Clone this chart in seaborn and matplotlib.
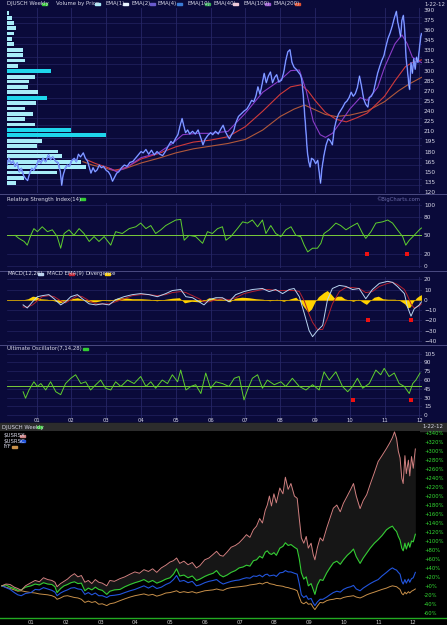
import matplotlib
matplotlib.use("Agg")
import matplotlib.pyplot as plt
from matplotlib.patches import Rectangle
from matplotlib.lines import Line2D
import seaborn as sns

plt.rcParams['font.family'] = ['Liberation Sans Narrow', 'DejaVu Sans']

# ---------------- data ----------------
price_years = [2000.14, 2000.20, 2000.26, 2000.32, 2000.38, 2000.44, 2000.50, 2000.56, 2000.62, 2000.68,
               2000.74, 2000.80, 2000.86, 2000.92, 2001.00, 2001.06, 2001.12, 2001.18, 2001.26, 2001.34,
               2001.40, 2001.46, 2001.54, 2001.62, 2001.68, 2001.72, 2001.76, 2001.82, 2001.88, 2001.94,
               2002.00, 2002.08, 2002.14, 2002.20, 2002.26, 2002.34, 2002.40, 2002.46, 2002.52, 2002.56,
               2002.62, 2002.68, 2002.74, 2002.80, 2002.86, 2002.92, 2003.00, 2003.06, 2003.12, 2003.18,
               2003.24, 2003.30, 2003.36, 2003.44, 2003.52, 2003.60, 2003.68, 2003.76, 2003.84, 2003.92,
               2004.00, 2004.06, 2004.14, 2004.22, 2004.30, 2004.38, 2004.46, 2004.54, 2004.62, 2004.70,
               2004.78, 2004.86, 2004.92, 2005.00, 2005.06, 2005.12, 2005.18, 2005.22, 2005.28, 2005.34,
               2005.40, 2005.48, 2005.56, 2005.64, 2005.72, 2005.78, 2005.84, 2005.92, 2006.00, 2006.06,
               2006.14, 2006.22, 2006.30, 2006.36, 2006.42, 2006.48, 2006.54, 2006.60, 2006.66, 2006.72,
               2006.80, 2006.88, 2006.96, 2007.04, 2007.10, 2007.18, 2007.24, 2007.30, 2007.36, 2007.42,
               2007.48, 2007.54, 2007.60, 2007.66, 2007.72, 2007.78, 2007.84, 2007.90, 2007.96, 2008.04,
               2008.10, 2008.16, 2008.22, 2008.28, 2008.34, 2008.40, 2008.46, 2008.52, 2008.58, 2008.62,
               2008.66, 2008.70, 2008.74, 2008.78, 2008.82, 2008.86, 2008.90, 2008.96, 2009.02, 2009.08,
               2009.12, 2009.16, 2009.20, 2009.26, 2009.32, 2009.38, 2009.44, 2009.50, 2009.56, 2009.62,
               2009.68, 2009.74, 2009.80, 2009.86, 2009.92, 2009.98, 2010.04, 2010.10, 2010.16, 2010.22,
               2010.28, 2010.34, 2010.40, 2010.46, 2010.52, 2010.56, 2010.62, 2010.68, 2010.74, 2010.80,
               2010.86, 2010.92, 2010.98, 2011.04, 2011.10, 2011.16, 2011.22, 2011.28, 2011.34, 2011.38,
               2011.42, 2011.46, 2011.50, 2011.54, 2011.58, 2011.62, 2011.66, 2011.70, 2011.72, 2011.76,
               2011.80, 2011.84, 2011.88, 2011.92, 2011.96, 2012.00, 2012.04, 2012.06]
price_vals = [160, 170, 162, 166, 158, 163, 150, 155, 145, 140,
              137, 148, 155, 152, 160, 168, 163, 170, 165, 175,
              168, 172, 166, 163, 150, 130, 145, 155, 160, 158,
              166, 170, 165, 176, 172, 178, 170, 166, 155, 148,
              156, 150, 153, 160, 156, 158, 152, 150, 145, 136,
              142, 148, 150, 156, 160, 158, 164, 165, 170, 175,
              180, 178, 183, 176, 182, 175, 180, 176, 174, 180,
              188, 195, 192, 200, 205, 218, 229, 220, 208, 212,
              206, 210, 206, 212, 200, 190, 198, 204, 208, 205,
              210, 206, 214, 219, 210, 204, 199, 205, 210, 222,
              232, 236, 240, 243, 248, 256, 254, 262, 276, 265,
              280, 296, 282, 292, 298, 282, 290, 294, 283, 286,
              297, 315, 328, 331, 312, 305, 302, 298, 294, 287,
              265, 238, 210, 180, 165, 157, 170, 168, 162, 167,
              150, 133, 155, 175, 190, 199, 196, 190, 215, 228,
              236, 241, 246, 252, 255, 260, 268, 262, 266, 275,
              292, 276, 258, 250, 246, 260, 262, 268, 282, 296,
              306, 315, 322, 336, 348, 356, 366, 378, 388, 372,
              362, 350, 375, 382, 360, 318, 300, 278, 272, 312,
              296, 318, 302, 320, 312, 332, 350, 355]

ema_fast_years = [2003.10, 2003.30, 2003.60, 2004.00, 2004.50, 2004.90, 2005.20, 2005.60, 2006.00, 2006.50,
                  2007.00, 2007.50, 2008.00, 2008.30, 2008.55, 2008.75, 2008.95, 2009.15, 2009.30, 2009.50,
                  2009.80, 2010.00, 2010.30, 2010.50, 2010.80, 2011.00, 2011.30, 2011.50, 2011.65, 2011.80, 2012.06]
ema_fast_vals = [155, 150, 157, 171, 178, 192, 205, 207, 207, 210,
                 237, 268, 286, 300, 301, 270, 225, 205, 201, 207,
                 228, 243, 260, 256, 275, 305, 340, 353, 340, 320, 312]
ema_mid_years = [2002.43, 2002.70, 2003.00, 2003.25, 2003.60, 2004.00, 2004.50, 2005.00, 2005.50, 2006.00,
                 2006.50, 2007.00, 2007.50, 2008.00, 2008.30, 2008.60, 2008.80, 2009.00, 2009.30, 2009.60,
                 2009.90, 2010.20, 2010.50, 2011.00, 2011.30, 2011.60, 2011.80, 2012.06]
ema_mid_vals = [168, 162, 157, 152, 157, 169, 177, 187, 194, 197,
                202, 217, 240, 265, 276, 279, 270, 256, 238, 228,
                224, 230, 237, 262, 285, 306, 312, 316]
ema_slow_years = [2002.33, 2002.60, 2003.00, 2003.20, 2003.50, 2004.00, 2004.50, 2005.00, 2005.50, 2006.00,
                  2006.50, 2007.00, 2007.50, 2008.00, 2008.40, 2008.70, 2009.00, 2009.30, 2009.60, 2010.00,
                  2010.50, 2011.00, 2011.40, 2011.70, 2012.06]
ema_slow_vals = [165, 160, 155, 152, 154, 163, 170, 178, 184, 188,
                 192, 198, 212, 232, 243, 249, 242, 235, 232, 234,
                 240, 254, 270, 280, 290]

# volume by price (price level, share of panel width)
vbp_prices = [386, 378, 371, 363, 355, 347, 339, 331, 323, 315, 307, 299, 291, 284, 276, 268, 260,
              252, 244, 236, 228, 220, 212, 204, 196, 188, 180, 173, 165, 157, 149, 141, 133]
vbp_share = [0.005, 0.012, 0.016, 0.022, 0.018, 0.011, 0.016, 0.038, 0.039, 0.043, 0.026, 0.107, 0.068,
             0.054, 0.051, 0.075, 0.097, 0.071, 0.043, 0.063, 0.043, 0.068, 0.155, 0.239, 0.085, 0.073,
             0.124, 0.133, 0.179, 0.191, 0.121, 0.042, 0.021]
vbp_hot = [299, 260, 212, 204]

rsi_years = [2000.38, 2000.49, 2000.64, 2000.73, 2000.83, 2000.92, 2001.02, 2001.16, 2001.31, 2001.45,
             2001.59, 2001.69, 2001.79, 2001.93, 2002.07, 2002.22, 2002.36, 2002.51, 2002.65, 2002.79,
             2002.94, 2003.13, 2003.27, 2003.46, 2003.66, 2003.85, 2003.99, 2004.14, 2004.28, 2004.42,
             2004.57, 2004.71, 2004.90, 2005.00, 2005.14, 2005.24, 2005.38, 2005.57, 2005.77, 2005.91,
             2006.05, 2006.20, 2006.34, 2006.44, 2006.58, 2006.77, 2006.92, 2007.06, 2007.20, 2007.35,
             2007.49, 2007.59, 2007.73, 2007.87, 2008.02, 2008.16, 2008.31, 2008.45, 2008.59, 2008.69,
             2008.79, 2008.93, 2009.07, 2009.17, 2009.26, 2009.41, 2009.60, 2009.74, 2009.89, 2010.03,
             2010.22, 2010.37, 2010.46, 2010.61, 2010.75, 2010.94, 2011.09, 2011.23, 2011.37, 2011.52,
             2011.61, 2011.71, 2011.85, 2012.00, 2012.06]
rsi_vals = [50, 45, 40, 34, 50, 61, 56, 64, 56, 59,
            48, 29, 53, 59, 50, 61, 53, 40, 48, 40,
            48, 34, 56, 53, 61, 64, 70, 61, 66, 53,
            59, 66, 72, 75, 76, 42, 50, 48, 37, 56,
            53, 61, 64, 42, 48, 61, 72, 70, 75, 64,
            75, 53, 66, 53, 48, 59, 64, 50, 48, 34,
            23, 29, 29, 37, 53, 59, 70, 66, 59, 64,
            70, 53, 45, 56, 70, 72, 75, 70, 59, 48,
            34, 42, 50, 59, 62]
rsi_flags_years = [2010.49, 2011.64]
rsi_flags_vals = [20, 20]

macd_years = [2000.61, 2000.73, 2000.88, 2001.02, 2001.16, 2001.35, 2001.50, 2001.69, 2001.83, 2001.98,
              2002.17, 2002.31, 2002.51, 2002.70, 2002.89, 2003.08, 2003.27, 2003.51, 2003.75, 2003.99,
              2004.23, 2004.47, 2004.71, 2004.90, 2005.14, 2005.29, 2005.48, 2005.67, 2005.81, 2005.96,
              2006.15, 2006.34, 2006.53, 2006.72, 2006.96, 2007.20, 2007.49, 2007.68, 2007.87, 2008.07,
              2008.26, 2008.40, 2008.55, 2008.69, 2008.83, 2008.93, 2009.07, 2009.22, 2009.36, 2009.50,
              2009.70, 2009.89, 2010.08, 2010.27, 2010.46, 2010.65, 2010.85, 2011.09, 2011.23, 2011.37,
              2011.57, 2011.66, 2011.76, 2011.85, 2012.00, 2012.06]
macd_vals = [-5, -8, -2, 3, 4, 5, 1, -5, -2, 3,
             5, 1, -4, -5, -4, -5, 0, 3, 5, 6,
             5, 3, 6, 9, 10, 3, 2, -2, -5, 0,
             2, 2, -2, 5, 8, 10, 11, 8, 10, 6,
             10, 11, 3, -13, -30, -36, -30, -25, 0, 11,
             14, 13, 10, 11, 1, 10, 16, 18, 17, 13,
             6, -7, -16, -9, -5, -2]
signal_vals = [-7, -7, -5, -1, 3, 4, 3, -1, -3, 0,
               4, 3, -1, -4, -4, -4, -2, 1, 4, 5,
               5, 4, 5, 7, 8, 7, 4, 1, -2, -2,
               0, 1, 0, 2, 6, 8, 10, 10, 9, 9,
               9, 9, 8, -1, -14, -22, -29, -29, -18, -4,
               8, 12, 12, 11, 7, 8, 13, 16, 17, 15,
               10, 4, -4, -8, -6, -4]
div_years = [2000.61, 2000.75, 2000.88, 2001.00, 2001.10, 2001.30, 2001.50, 2001.68, 2001.80, 2002.00,
             2002.17, 2002.30, 2002.50, 2002.70, 2002.90, 2003.10, 2003.30, 2003.50, 2003.75, 2004.00,
             2004.25, 2004.45, 2004.70, 2004.90, 2005.10, 2005.25, 2005.45, 2005.65, 2005.80, 2005.95,
             2006.15, 2006.35, 2006.55, 2006.70, 2006.90, 2007.10, 2007.30, 2007.50, 2007.70, 2007.90,
             2008.10, 2008.30, 2008.45, 2008.58, 2008.68, 2008.80, 2008.90, 2009.00, 2009.10, 2009.25,
             2009.35, 2009.45, 2009.55, 2009.65, 2009.75, 2009.85, 2010.00, 2010.10, 2010.25, 2010.40,
             2010.48, 2010.58, 2010.70, 2010.82, 2010.95, 2011.10, 2011.30, 2011.45, 2011.58, 2011.66,
             2011.74, 2011.82, 2011.92, 2012.00, 2012.06]
div_vals = [0, 1, 3.5, 3, 1, 0.5, -1, -3, -1, 1,
            2, 0.5, -2, -2, -0.5, -1, 1.5, 2, 1, 1,
            0.5, -1, 0.5, 1.5, 2, -3, -1.5, -2, -1, 2,
            1.5, 0.5, -2, 1.5, 2.5, 2, 1, 0.5, -1, 0.5,
            -1.5, 1, 2.5, -2, -7, -12, -9, -2, 3, 7,
            9, 6, 2, 3.5, 3.5, 1, -0.5, -1.5, 0.5, -3,
            -4.5, -1, 2.5, 3.5, 1, 0.5, 0.5, -1, -4, -8,
            -7, -2, 2, 4, 5]
macd_flags_years = [2010.51, 2011.76]
macd_flags_vals = [-20, -20]

uo_years = [2000.61, 2000.68, 2000.78, 2000.92, 2001.02, 2001.12, 2001.26, 2001.40, 2001.55, 2001.69,
            2001.83, 2001.98, 2002.12, 2002.27, 2002.41, 2002.55, 2002.70, 2002.84, 2002.98, 2003.13,
            2003.27, 2003.42, 2003.61, 2003.80, 2003.99, 2004.14, 2004.28, 2004.42, 2004.61, 2004.76,
            2004.90, 2005.05, 2005.14, 2005.29, 2005.43, 2005.57, 2005.72, 2005.86, 2006.00, 2006.15,
            2006.34, 2006.53, 2006.68, 2006.82, 2006.96, 2007.06, 2007.20, 2007.35, 2007.49, 2007.63,
            2007.83, 2008.02, 2008.16, 2008.35, 2008.55, 2008.74, 2008.93, 2009.12, 2009.26, 2009.41,
            2009.60, 2009.79, 2009.94, 2010.08, 2010.22, 2010.37, 2010.56, 2010.75, 2010.89, 2010.99,
            2011.13, 2011.28, 2011.42, 2011.57, 2011.71, 2011.81, 2011.90, 2012.02]
uo_vals = [40, 29, 43, 57, 49, 54, 43, 57, 40, 35,
           54, 63, 69, 54, 57, 43, 52, 60, 46, 43,
           57, 49, 60, 54, 66, 49, 57, 46, 60, 54,
           69, 57, 77, 43, 49, 52, 37, 72, 46, 57,
           54, 49, 63, 66, 26, 43, 63, 69, 46, 60,
           52, 57, 49, 63, 49, 43, 52, 43, 74, 60,
           74, 49, 40, 49, 63, 46, 54, 77, 69, 80,
           66, 72, 54, 49, 37, 54, 60, 72]
uo_flags_years = [2010.09, 2011.76]
uo_flags_vals = [26, 26]

# performance (% change since start)
perf_years = [2000.16, 2000.28, 2000.40, 2000.52, 2000.62, 2000.72, 2000.84, 2001.00, 2001.12, 2001.24,
              2001.36, 2001.48, 2001.60, 2001.69, 2001.75, 2001.85, 2001.95, 2002.05, 2002.15, 2002.25,
              2002.35, 2002.45, 2002.55, 2002.65, 2002.75, 2002.85, 2002.95, 2003.05, 2003.18, 2003.27,
              2003.40, 2003.56, 2003.70, 2003.85, 2003.99, 2004.12, 2004.25, 2004.38, 2004.50, 2004.62,
              2004.75, 2004.88, 2005.00, 2005.10, 2005.19, 2005.28, 2005.40, 2005.52, 2005.64, 2005.76,
              2005.86, 2006.00, 2006.12, 2006.24, 2006.34, 2006.44, 2006.53, 2006.64, 2006.76, 2006.88,
              2006.99, 2007.10, 2007.20, 2007.30, 2007.40, 2007.49, 2007.58, 2007.66, 2007.74, 2007.80,
              2007.86, 2007.92, 2007.99, 2008.06, 2008.16, 2008.25, 2008.32, 2008.40, 2008.48, 2008.58,
              2008.66, 2008.72, 2008.78, 2008.85, 2008.92, 2008.98, 2009.06, 2009.12, 2009.17, 2009.24,
              2009.32, 2009.40, 2009.51, 2009.60, 2009.70, 2009.80, 2009.90, 2009.99, 2010.10, 2010.20,
              2010.28, 2010.36, 2010.47, 2010.56, 2010.66, 2010.76, 2010.88, 2010.99, 2011.10, 2011.23,
              2011.32, 2011.40, 2011.46, 2011.52, 2011.57, 2011.62, 2011.67, 2011.71, 2011.76, 2011.80,
              2011.86, 2011.90, 2011.95, 2012.00, 2012.06]
perf_rsx = [0, 4, 3, -3, -6, -10, 0, 7, 12, 9,
            18, 14, 12, 8, -2, 5, 10, 15, 22, 27,
            20, 23, 8, 12, 5, 14, 8, 6, 0, 12,
            10, 16, 20, 26, 31, 28, 36, 32, 38, 30,
            40, 46, 53, 56, 62, 50, 55, 47, 52, 40,
            45, 58, 62, 70, 77, 68, 66, 75, 86, 90,
            96, 105, 114, 108, 125, 133, 150, 140, 168, 180,
            200, 178, 205, 185, 218, 205, 242, 215, 228, 200,
            195, 150, 107, 95, 110, 84, 95, 70, 58, 85,
            107, 100, 129, 150, 173, 180, 165, 184, 200, 215,
            228, 200, 172, 190, 203, 226, 252, 277, 290, 306,
            318, 330, 343, 328, 300, 285, 240, 228, 290, 250,
            280, 245, 288, 262, 305]
perf_djusch = [0, 2, -3, -6, -10, -9, -3, 0, 4, 2,
               7, 4, 3, -2, -15, -6, 0, 3, 7, 9,
               5, 6, -11, -5, -9, -3, -8, -10, -19, -12,
               -9, -8, -2, 3, 7, 10, 14, 8, 12, 6,
               10, 15, 18, 26, 38, 22, 24, 18, 22, 12,
               15, 21, 25, 28, 34, 24, 20, 24, 30, 34,
               40, 42, 46, 44, 56, 58, 66, 62, 75, 78,
               72, 70, 74, 68, 84, 88, 96, 90, 92, 86,
               82, 60, 29, 15, 20, 0, 5, -8, -19, 2,
               14, 12, 29, 40, 51, 55, 48, 58, 68, 75,
               82, 65, 50, 62, 73, 84, 95, 103, 112, 125,
               130, 133, 126, 121, 110, 102, 84, 78, 95, 82,
               96, 86, 100, 98, 115]
perf_rsc = [0, -4, -8, -15, -20, -22, -17, -15, -8, -9,
            -4, -7, -10, -14, -22, -16, -12, -9, -5, -4,
            -7, -8, -19, -15, -20, -16, -22, -22, -26, -22,
            -21, -19, -15, -11, -8, -4, 0, -5, 0, -6,
            -3, 3, 7, 14, 23, 10, 12, 7, 10, 0,
            2, 7, 10, 12, 14, 8, 4, 7, 10, 12,
            13, 16, 18, 17, 22, 21, 24, 20, 25, 26,
            22, 23, 24, 21, 29, 30, 34, 31, 31, 28,
            26, 5, -20, -26, -22, -30, -28, -38, -44, -36,
            -30, -30, -25, -20, -15, -12, -14, -8, -4, -2,
            1, -7, -11, -5, 0, 5, 10, 14, 22, 30,
            36, 40, 37, 35, 30, 26, 10, 4, 14, 6,
            15, 8, 16, 18, 30]
perf_iyf = [0, -3, -6, -9, -12, -11, -13, -15, -16, -18,
            -19, -20, -22, -25, -30, -27, -23, -22, -24, -26,
            -27, -30, -37, -34, -37, -35, -41, -40, -44, -40,
            -38, -33, -29, -25, -22, -20, -18, -21, -19, -23,
            -20, -16, -15, -13, -11, -15, -13, -15, -13, -16,
            -14, -11, -10, -9, -7, -9, -10, -6, -4, -3,
            -2, -1, 0, 2, 3, 4, 6, 4, 7, 8,
            5, 4, 3, 1, 0, -1, -3, -4, -6, -8,
            -11, -25, -37, -40, -36, -41, -40, -48, -53, -45,
            -37, -38, -33, -31, -30, -28, -29, -26, -24, -23,
            -22, -25, -27, -24, -20, -17, -14, -11, -8, -5,
            -2, 0, -1, -2, -5, -8, -17, -20, -14, -18,
            -13, -16, -12, -10, -7]

year_ticks = list(range(2001, 2013))
year_labels = ["%02d" % (y - 2000) for y in year_ticks]

# ---------------- look ----------------
W, H = 447, 625
NAVY = '#0a0a3a'
GRID = '#262666'
TXT = '#d6d6e6'
FS = 4.2
HFS = 3.9


def rect(x0, y0, x1, y1):
    return [x0 / W, 1 - y1 / H, (x1 - x0) / W, (y1 - y0) / H]


def header(fig, items, y, ha='left'):
    for text, tx, sx, col in items:
        fig.text(tx / W, 1 - y / H, text, color=TXT, fontsize=HFS, va='center', ha=ha)
        if sx is not None:
            fig.patches.append(Rectangle((sx / W, 1 - (y + 1) / H), 5 / W, 2 / H,
                                         transform=fig.transFigure, color=col, zorder=3))


def style_top(ax, ylim, yticks, minor=None):
    ax.set_facecolor(NAVY)
    for sp in ax.spines.values():
        sp.set_visible(False)
    ax.set_xlim(2000.147, 2012.062)
    ax.set_ylim(*ylim)
    ax.set_xticks(year_ticks)
    ax.set_yticks(yticks)
    ax.yaxis.tick_right()
    ax.tick_params(axis='y', length=0, pad=1.8, labelsize=FS, labelcolor=TXT)
    ax.tick_params(axis='x', length=0, labelbottom=False)
    ax.tick_params(which='minor', length=0)
    ax.set_axisbelow(True)
    ax.grid(True, axis='x', color=GRID, lw=0.6)
    if minor is not None:
        ax.set_yticks(minor, minor=True)
        ax.grid(True, axis='y', which='minor', color=GRID, lw=0.45)
    else:
        ax.grid(True, axis='y', color=GRID, lw=0.45)
    ax.set_xlabel('')
    ax.set_ylabel('')


fig = plt.figure(figsize=(W / 100, H / 100), dpi=100, facecolor=NAVY)

# black performance area + its header strip (behind the axes)
fig.patches.append(Rectangle((0, 0), 1, (H - 423) / H, transform=fig.transFigure, color='black', zorder=-3))
fig.patches.append(Rectangle((0, 1 - 431 / H), 1, 8 / H, transform=fig.transFigure, color='#2c2c2c', zorder=-2))
for ysep in [194.5, 270.5, 344.5]:
    fig.add_artist(Line2D([0, 1], [1 - ysep / H] * 2, transform=fig.transFigure, color='#4a4a82', lw=0.7))
fig.add_artist(Line2D([0, 1], [1 - 617.7 / H] * 2, transform=fig.transFigure, color='#22aa22', lw=1.0))

# ---------------- price panel ----------------
ax = fig.add_axes(rect(7, 7.5, 421.5, 193))
style_top(ax, (118.5, 393.7), list(range(120, 391, 15)), minor=list(range(120, 391, 10)))
vcols = ['#1fd6ec' if p in vbp_hot else '#a8ecf8' for p in vbp_prices]
ax.barh(vbp_prices, vbp_share, left=0, height=5.6, color=vcols, zorder=1,
        transform=ax.get_yaxis_transform())
sns.lineplot(x=ema_slow_years, y=ema_slow_vals, ax=ax, color='#b0583a', lw=0.8, zorder=3)
sns.lineplot(x=ema_mid_years, y=ema_mid_vals, ax=ax, color='#d03a3a', lw=0.8, zorder=3)
sns.lineplot(x=ema_fast_years, y=ema_fast_vals, ax=ax, color='#8a3cc8', lw=0.8, zorder=3)
sns.lineplot(x=price_years, y=price_vals, ax=ax, color='#4f5ff0', lw=1.1, zorder=4)
sns.lineplot(x=price_years, y=price_vals, ax=ax, color='#c8f0ff', lw=0.35, alpha=0.8, zorder=5)
ax.set_xlim(2000.147, 2012.062)
ax.set_ylim(118.5, 393.7)
header(fig, [("DJUSCH Weekly", 7, 42, '#33cc33'), ("Volume by Price", 56, 95, '#a8ecf8'),
             ("EMA(1)", 105, 123, '#e8f4ff'), ("EMA(2)", 132, 150, '#6a5acd'),
             ("EMA(4)", 158, 177, '#3a7bd5'), ("EMA(10)", 187, 205, '#33aa55'),
             ("EMA(40)", 214, 233, '#f0c8d8'), ("EMA(100)", 243, 265, '#9b59d0'),
             ("EMA(200)", 273, 295, '#e05030')], 4)
header(fig, [("1-22-12", 445, None, None)], 4, ha='right')
fig.text(420 / W, 1 - 199 / H, "\u00a9BigCharts.com", color='#6a6aa8', fontsize=3.8, ha='right', va='center')

# ---------------- RSI ----------------
ax = fig.add_axes(rect(7, 202.5, 421.5, 268))
style_top(ax, (-3.3, 103.6), [0, 20, 50, 80, 100])
ax.axhline(50, color='#7acc3a', lw=0.7, zorder=2)
sns.lineplot(x=rsi_years, y=rsi_vals, ax=ax, color='#5fcf2f', lw=0.7, zorder=3)
ax.scatter(rsi_flags_years, rsi_flags_vals, marker='s', s=9, color='#ee1111', zorder=4, linewidths=0)
header(fig, [("Relative Strength Index(14)", 7, 80, '#33cc33')], 199)

# ---------------- MACD ----------------
ax = fig.add_axes(rect(7, 276.7, 421.5, 342))
style_top(ax, (-41.2, 22.5), list(range(-40, 21, 10)))
ax.fill_between(div_years, 0, div_vals, color='#ffd200', lw=0, zorder=2)
ax.axhline(0, color='#d8a800', lw=0.6, zorder=2)
sns.lineplot(x=macd_years, y=signal_vals, ax=ax, color='#b02030', lw=0.7, zorder=3)
sns.lineplot(x=macd_years, y=macd_vals, ax=ax, color='#b8d4f0', lw=0.7, zorder=4)
ax.scatter(macd_flags_years, macd_flags_vals, marker='s', s=9, color='#ee1111', zorder=5, linewidths=0)
header(fig, [("MACD(12,26)", 7, 38, '#b8d4f0'), ("MACD EMA(9)", 47, 69, '#c02030'),
             ("Divergence", 86, 105, '#ffd200')], 274)

# ---------------- Ultimate Oscillator ----------------
ax = fig.add_axes(rect(7, 351.7, 421.5, 417.5))
style_top(ax, (-4, 108.4), list(range(0, 106, 15)))
ax.axhline(50, color='#7acc3a', lw=0.7, zorder=2)
sns.lineplot(x=uo_years, y=uo_vals, ax=ax, color='#5fcf2f', lw=0.7, zorder=3)
ax.scatter(uo_flags_years, uo_flags_vals, marker='s', s=9, color='#ee1111', zorder=4, linewidths=0)
ax.set_xticklabels(year_labels)
ax.tick_params(axis='x', labelbottom=True, labelsize=3.8, labelcolor=TXT, pad=0.6)
header(fig, [("Ultimate Oscillator(7,14,28)", 7, 83, '#33cc33')], 348.7)

# ---------------- performance panel ----------------
ax = fig.add_axes(rect(0, 431, 420, 617.7))
ax.set_facecolor('black')
for sp in ax.spines.values():
    sp.set_visible(False)
ax.fill_between(perf_years, perf_djusch, perf_rsx, color='#161616', lw=0, zorder=1)
sns.lineplot(x=perf_years, y=perf_iyf, ax=ax, color='#c8904a', lw=0.7, zorder=2)
sns.lineplot(x=perf_years, y=perf_rsc, ax=ax, color='#2255dd', lw=0.8, zorder=3)
sns.lineplot(x=perf_years, y=perf_djusch, ax=ax, color='#33cc33', lw=0.8, zorder=4)
sns.lineplot(x=perf_years, y=perf_rsx, ax=ax, color='#d08080', lw=0.7, zorder=5)
ax.set_xlim(2000.108, 2012.194)
ax.set_ylim(-71, 345)
pticks = list(range(-60, 341, 20))
ax.set_yticks(pticks)
ax.set_yticklabels(["%+d%%" % v for v in pticks])
ax.yaxis.tick_right()
ax.tick_params(axis='y', length=0, pad=3, labelsize=3.8, labelcolor='#33dd33')
ax.set_xticks(year_ticks)
ax.set_xticklabels(year_labels)
ax.tick_params(axis='x', length=0, pad=1.6, labelsize=3.8, labelcolor='#cccccc')
ax.set_xlabel('')
ax.set_ylabel('')
header(fig, [("DJUSCH Weekly", 2, 37, '#33cc33')], 427)
header(fig, [("1-22-12", 443, None, None)], 427, ha='right')
header(fig, [("$USRSX", 3, 20, '#d08080')], 435.5)
header(fig, [("$USRSC", 3, 20, '#2255dd')], 441)
header(fig, [("IYF", 3, 12, '#c8904a')], 446.5)

fig.savefig('out.png', dpi=100, facecolor=NAVY)
